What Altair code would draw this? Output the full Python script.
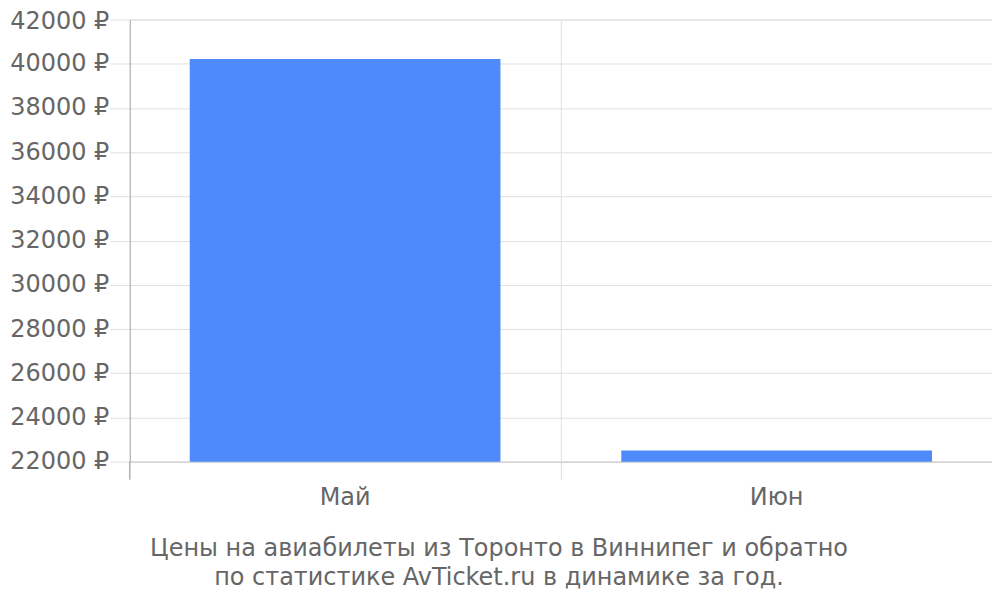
import altair as alt
import pandas as pd

months = ["Май", "Июн"]
prices = [40220, 22510]
y_ticks = [22000, 24000, 26000, 28000, 30000, 32000, 34000, 36000, 38000, 40000, 42000]
title_lines = ["Цены на авиабилеты из Торонто в Виннипег и обратно",
               "по статистике AvTicket.ru в динамике за год."]

df = pd.DataFrame({"month": months, "price": prices})

FONT = "DejaVu Sans"

bars = alt.Chart(df).mark_bar(color="#4e8af9", clip=True).encode(
    x=alt.X("month:N", sort=months, title=None,
            scale=alt.Scale(paddingInner=0.28, paddingOuter=0.139),
            axis=alt.Axis(labelAngle=0, grid=True, gridColor="#e0e0e0",
                          bandPosition=1.196, tickSize=18, tickColor="#dddddd",
                          domainColor="#cccccc", labelFontSize=24,
                          labelColor="#666666", labelPadding=6, labelFont=FONT)),
    y=alt.Y("price:Q", title=None,
            scale=alt.Scale(domain=[22000, 42000], zero=False, nice=False),
            axis=alt.Axis(values=y_ticks, labelExpr="datum.value + ' ₽'",
                          labelOffset=alt.ExprRef("datum.value == 42000 ? 2 : 0"),
                          grid=True, gridColor="#e0e0e0", tickSize=20,
                          tickColor="#e0e0e0", domainColor="#aaaaaa",
                          labelFontSize=24, labelColor="#666666",
                          labelPadding=1, labelFont=FONT)),
)

stub = alt.Chart(df).mark_rule(color="#aaaaaa").encode(
    x=alt.value(0), y=alt.value(443), y2=alt.value(461)
)

chart = alt.layer(bars, stub).properties(
    width=864, height=443,
    autosize=alt.AutoSizeParams(type="none"),
    padding={"left": 122, "top": 11, "right": 0, "bottom": 130},
    title=alt.TitleParams(text=title_lines, orient="bottom", anchor="middle",
                          fontSize=24, font=FONT, color="#666666",
                          fontWeight="normal", dx=-62, offset=28, lineHeight=29),
).configure_view(stroke=None).configure(font=FONT)

chart.save("out.html", embed_options={"renderer": "svg", "actions": False})
